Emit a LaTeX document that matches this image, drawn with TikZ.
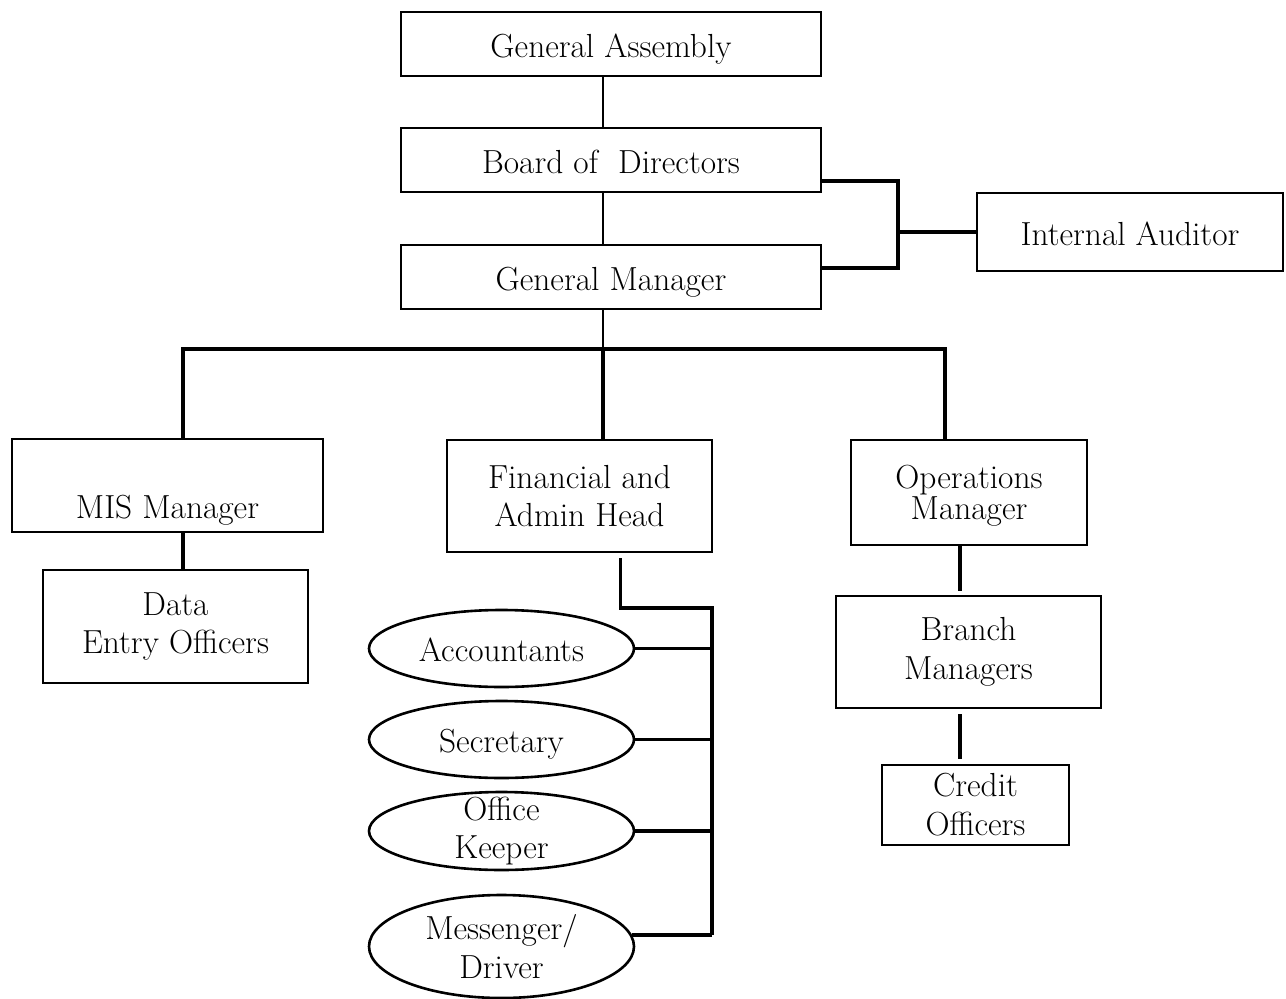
\documentclass[tikz,border=0pt]{standalone}
\usepackage{tikz}
\usetikzlibrary{shapes.geometric}

\tikzset{
  post/.style={draw,rectangle,line width=2.8bp,inner sep=0pt,align=center},
  staff/.style={draw,ellipse,line width=2.6bp,inner sep=0pt,align=center,minimum width=265bp},
  oneline/.style={text height=26bp,text depth=0pt},
  link/.style={line width=2bp},
  bus/.style={line width=3.5bp},
}

\begin{document}
\begin{tikzpicture}[font=\fontsize{33.5}{39}\selectfont]
\useasboundingbox (0bp,0bp) rectangle (1286bp,-999bp);

\node (GA) at (611bp,-44bp)[post,oneline,minimum width=420bp,minimum height=64bp] {General Assembly};
\node (BD) at (611bp,-160bp)[post,oneline,minimum width=420bp,minimum height=64bp] {Board of~ Directors};
\node (GM) at (611bp,-277bp)[post,oneline,minimum width=420bp,minimum height=64bp] {General Manager};
\node (IA) at (1130bp,-232bp)[post,oneline,minimum width=306bp,minimum height=78bp] {Internal Auditor};
\node (MIS) at (167.5bp,-485.5bp)[post,minimum width=311bp,minimum height=93bp,text height=72bp,text depth=7bp] {MIS Manager};
\node (DEO) at (175.5bp,-626.5bp)[post,minimum width=265bp,minimum height=113bp] {Data\\Entry Officers};
\node (FAH) at (579.5bp,-496bp)[post,minimum width=265bp,minimum height=112bp] {Financial and\\Admin Head};
\node (OPS) at (969bp,-492.5bp)[post,minimum width=236bp,minimum height=105bp,font=\fontsize{33.5}{31}\selectfont,text depth=0pt] {Operations\\Manager};
\node (BM) at (968.5bp,-652bp)[post,minimum width=265bp,minimum height=112bp] {Branch\\Managers};
\node (CO) at (975.5bp,-805bp)[post,minimum width=187bp,minimum height=80bp] {Credit\\Officers};
\node (ACC) at (501.5bp,-648.5bp)[staff,oneline,minimum height=77bp] {Accountants};
\node (SEC) at (501.5bp,-739.5bp)[staff,oneline,minimum height=77bp] {Secretary};
\node (OK) at (501.5bp,-831bp)[staff,minimum height=78bp,label={[align=center]center:Office\\Keeper}] {};
\node (MD) at (501.5bp,-946.5bp)[staff,minimum height=103bp] {Messenger/\\Driver};

\coordinate (spine) at (603bp,-349bp);
\coordinate (jL) at (183bp,-349bp);
\coordinate (jR) at (945bp,-349bp);
\coordinate (bk) at (898bp,-232bp);
\coordinate (rail) at (712bp,-608bp);
\coordinate (opsx) at (960bp,-560bp);

\draw [link] (GA.south -| spine) -- (BD.north -| spine);
\draw [link] (BD.south -| spine) -- (GM.north -| spine);
\draw [link] (GM.south -| spine) -- ([yshift=-9bp]spine);
\draw [bus] ([yshift=-21bp]BD.east) -| (bk) |- ([yshift=9bp]GM.east);
\draw [bus] (bk) -- (IA.west);
\draw [bus] (MIS.north -| jL) -- (jL) -- (jR) -- (OPS.north -| jR);
\draw [bus] (spine) -- (FAH.north -| spine);
\draw [bus] (MIS.south -| jL) -- (DEO.north -| jL);
\draw [bus,shorten >=4bp] (OPS.south -| opsx) -- (BM.north -| opsx);
\draw [bus,shorten <=5bp,shorten >=5bp] (BM.south -| opsx) -- (CO.north -| opsx);
\draw [bus] ([xshift=41bp,yshift=-5bp]FAH.south) |- (rail) -- (rail |- MD.5);
\draw [bus] (ACC.east) -- (ACC.east -| rail);
\draw [bus] (SEC.east) -- (SEC.east -| rail);
\draw [bus] (OK.east) -- (OK.east -| rail);
\draw [bus] (MD.5) -- (MD.5 -| rail);
\end{tikzpicture}
\end{document}
